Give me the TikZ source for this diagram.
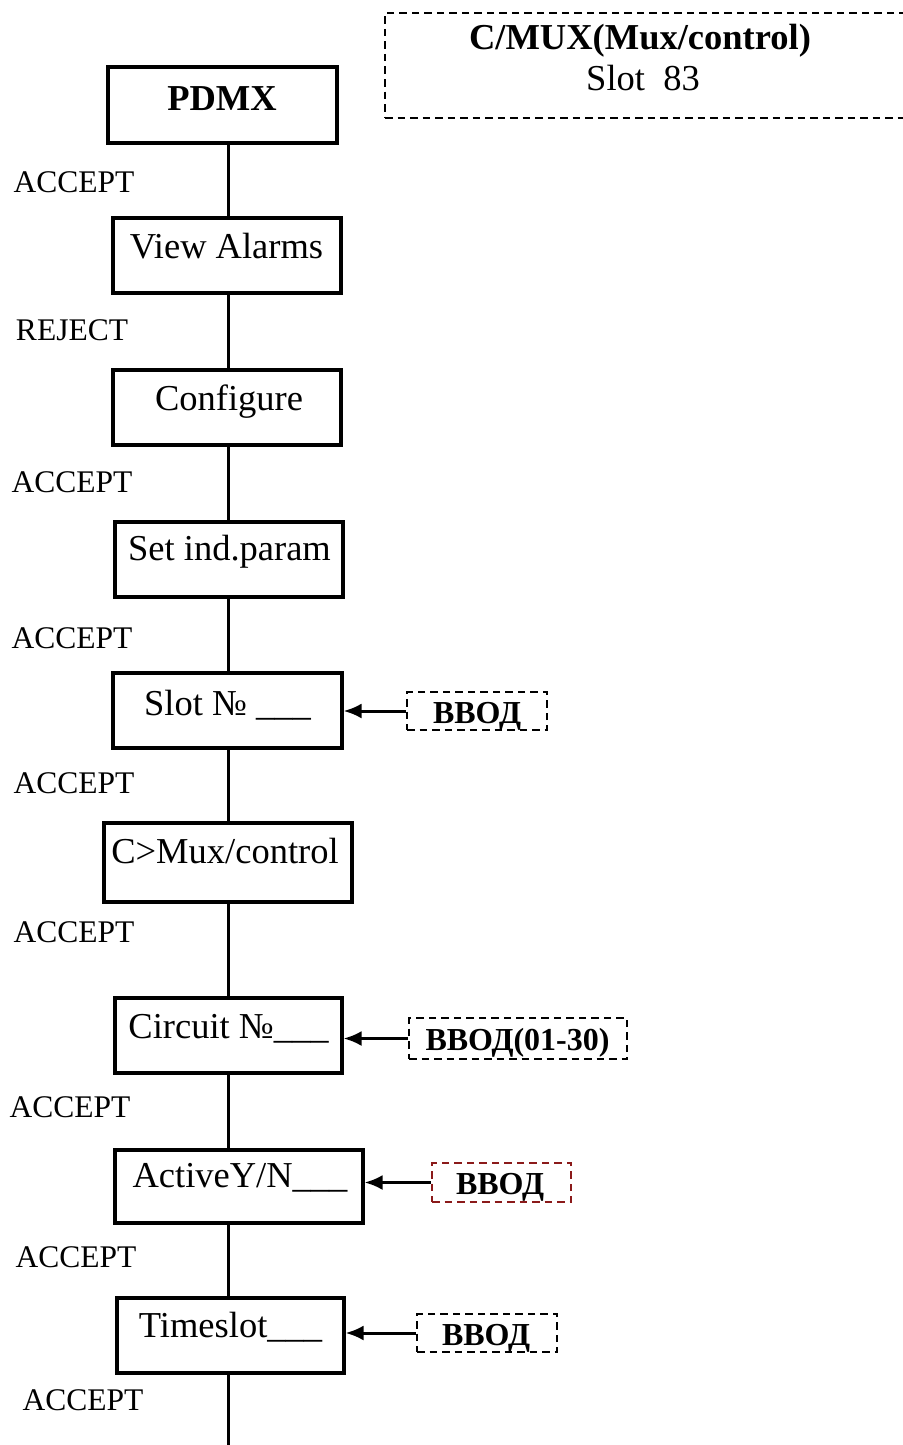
\documentclass[tikz,border=0pt]{standalone}
\usepackage{fontspec}
\setmainfont{Liberation Serif}
\usetikzlibrary{arrows.meta}
\definecolor{inred}{RGB}{139,26,26}
\tikzset{
  box/.style={draw, line width=3.1pt, inner sep=0pt, rectangle},
  dbox/.style={draw, line width=1.8pt, dash pattern=on 7.5pt off 5pt, inner sep=0pt, rectangle},
  btext/.style={anchor=base, inner sep=0pt, font=\fontsize{36.5}{40}\selectfont},
  ltext/.style={anchor=base, inner sep=0pt, font=\fontsize{31.5}{36}\selectfont},
  itext/.style={anchor=base, inner sep=0pt, font=\fontsize{32}{36}\selectfont\bfseries},
  conn/.style={line width=3pt},
  inarrow/.style={line width=3pt, -{Latex[length=18pt,width=15pt]}}
}
\begin{document}
\begin{tikzpicture}[x=1pt,y=-1pt]
\useasboundingbox (0,0) rectangle (902,1445);
\coordinate (axis) at (228,0);
\coordinate (bottom) at (228,1445);

% title box
\node[dbox, minimum width=527pt, minimum height=105pt] (title) at (648.5,65.5) {};
\node[btext, font=\fontsize{36.5}{40}\selectfont\bfseries] (title1) at (640,49) {C/MUX(Mux/control)};
\node[btext] (title2) at (643,90) {Slot\ \ 83};

% main boxes
\node[box, minimum width=229pt, minimum height=76pt] (pdmx) at (222.5,105) {};
\node[box, minimum width=228pt, minimum height=75pt] (view) at (227,255.5) {};
\node[box, minimum width=228pt, minimum height=75pt] (conf) at (227,407.5) {};
\node[box, minimum width=228pt, minimum height=75pt] (setp) at (229,559.5) {};
\node[box, minimum width=229pt, minimum height=75pt] (slot) at (227.5,710.5) {};
\node[box, minimum width=248pt, minimum height=79pt] (cmux) at (228,862.5) {};
\node[box, minimum width=227pt, minimum height=75pt] (circ) at (228.5,1035.5) {};
\node[box, minimum width=248pt, minimum height=73pt] (actv) at (239,1186.5) {};
\node[box, minimum width=227pt, minimum height=75pt] (tmsl) at (230.5,1335.5) {};

% box texts
\node[btext, font=\fontsize{36.5}{40}\selectfont\bfseries] (pdmxt) at (222,110) {PDMX};
\node[btext] (viewt) at (226.5,258) {View Alarms};
\node[btext] (conft) at (229,410) {Configure};
\node[btext] (setpt) at (229.5,560) {Set ind.param};
\node[btext] (slott) at (227.5,715) {Slot № \_\_\_};
\node[btext] (cmuxt) at (225,863) {C>Mux/control};
\node[btext] (circt) at (228.5,1038) {Circuit №\_\_\_};
\node[btext] (actvt) at (240,1187) {ActiveY/N\_\_\_};
\node[btext] (tmslt) at (230.5,1337) {Timeslot\_\_\_};

% connectors
\draw[conn] (pdmx.south -| axis) -- (view.north -| axis);
\draw[conn] (view.south -| axis) -- (conf.north -| axis);
\draw[conn] (conf.south -| axis) -- (setp.north -| axis);
\draw[conn] (setp.south -| axis) -- (slot.north -| axis);
\draw[conn] (slot.south -| axis) -- (cmux.north -| axis);
\draw[conn] (cmux.south -| axis) -- (circ.north -| axis);
\draw[conn] (circ.south -| axis) -- (actv.north -| axis);
\draw[conn] (actv.south -| axis) -- (tmsl.north -| axis);
\draw[conn] (tmsl.south -| axis) -- (bottom);

% labels
\node[ltext] (l1) at (74,192) {ACCEPT};
\node[ltext] (l2) at (72,340) {REJECT};
\node[ltext] (l3) at (72,492) {ACCEPT};
\node[ltext] (l4) at (72,648) {ACCEPT};
\node[ltext] (l5) at (74,793) {ACCEPT};
\node[ltext] (l6) at (74,942) {ACCEPT};
\node[ltext] (l7) at (70,1117) {ACCEPT};
\node[ltext] (l8) at (76,1267) {ACCEPT};
\node[ltext] (l9) at (83,1410) {ACCEPT};

% input boxes
\node[dbox, minimum width=140pt, minimum height=38pt] (inA) at (477,711) {};
\node[itext] (inAt) at (477,723) {ВВОД};
\node[dbox, minimum width=218pt, minimum height=41pt] (inB) at (518,1038.5) {};
\node[itext] (inBt) at (517.5,1050) {ВВОД(01-30)};
\node[dbox, draw=inred, minimum width=139pt, minimum height=39pt] (inC) at (501.5,1182.5) {};
\node[itext] (inCt) at (500,1194) {ВВОД};
\node[dbox, minimum width=140pt, minimum height=38pt] (inD) at (487,1333) {};
\node[itext] (inDt) at (486,1345) {ВВОД};

\draw[inarrow] (inA.west) -- (inA.west -| slot.east);
\draw[inarrow] (inB.west) -- (inB.west -| circ.east);
\draw[inarrow] (inC.west) -- (inC.west -| actv.east);
\draw[inarrow] (inD.west) -- (inD.west -| tmsl.east);
\end{tikzpicture}
\end{document}
